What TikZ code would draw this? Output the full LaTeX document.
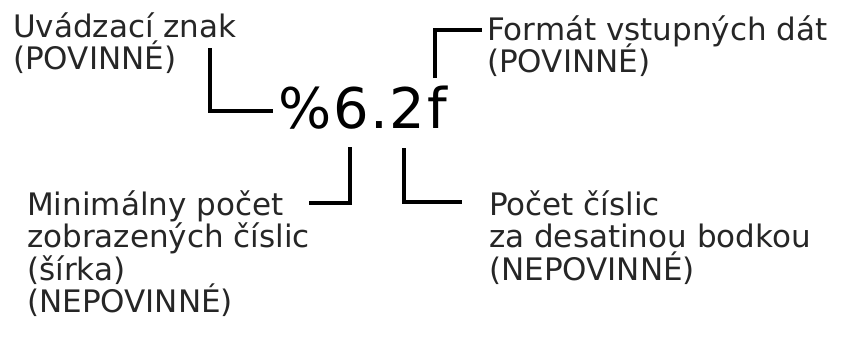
\documentclass[tikz,border=0pt]{standalone}
\usepackage{fontspec}
\setmainfont{DejaVu Sans}
\newfontfamily\bigfmtfont[LetterSpace=3]{DejaVu Sans}
\begin{document}
\begin{tikzpicture}[x=1pt,y=-1pt,
  lbl/.style={anchor=base west,inner sep=0pt,text=black!85,font=\fontsize{31}{33}\selectfont},
  big/.style={anchor=base west,inner sep=0pt,text=black,font=\bigfmtfont\fontsize{56}{60}\selectfont},
  conn/.style={draw=black,line width=4.5pt,line cap=butt,line join=miter}]
\useasboundingbox (0,0) rectangle (844,338);
% labels
\node[lbl] (u1) at (13,37) {Uvádzací znak};
\node[lbl] (u2) at (13,69) {(POVINNÉ)};
\node[lbl] (f1) at (487,40) {Formát vstupných dát};
\node[lbl] (f2) at (487,72) {(POVINNÉ)};
\node[lbl] (m1) at (27,215) {Minimálny počet};
\node[lbl] (m2) at (27,247.5) {zobrazených číslic};
\node[lbl] (m3) at (27,280) {(šírka)};
\node[lbl] (m4) at (27,312.5) {(NEPOVINNÉ)};
\node[lbl] (p1) at (489,215) {Počet číslic};
\node[lbl] (p2) at (489,247.5) {za desatinou bodkou};
\node[lbl] (p3) at (489,280) {(NEPOVINNÉ)};
\node[big] (fmt) at (278,128) {\%6.2f};
% connector end points
\coordinate (a0) at (210,48);
\coordinate (a1) at (210,111);
\coordinate (a2) at (273,111);
\coordinate (b0) at (435,78);
\coordinate (b1) at (435,30);
\coordinate (b2) at (482,30);
\coordinate (c0) at (350,147);
\coordinate (c1) at (350,203);
\coordinate (c2) at (309,203);
\coordinate (d0) at (404,148);
\coordinate (d1) at (404,202);
\coordinate (d2) at (462,202);
\draw[conn] (a0) -- (a1) -- (a2);
\draw[conn] (b0) -- (b1) -- (b2);
\draw[conn] (c0) -- (c1) -- (c2);
\draw[conn] (d0) -- (d1) -- (d2);
\end{tikzpicture}
\end{document}
